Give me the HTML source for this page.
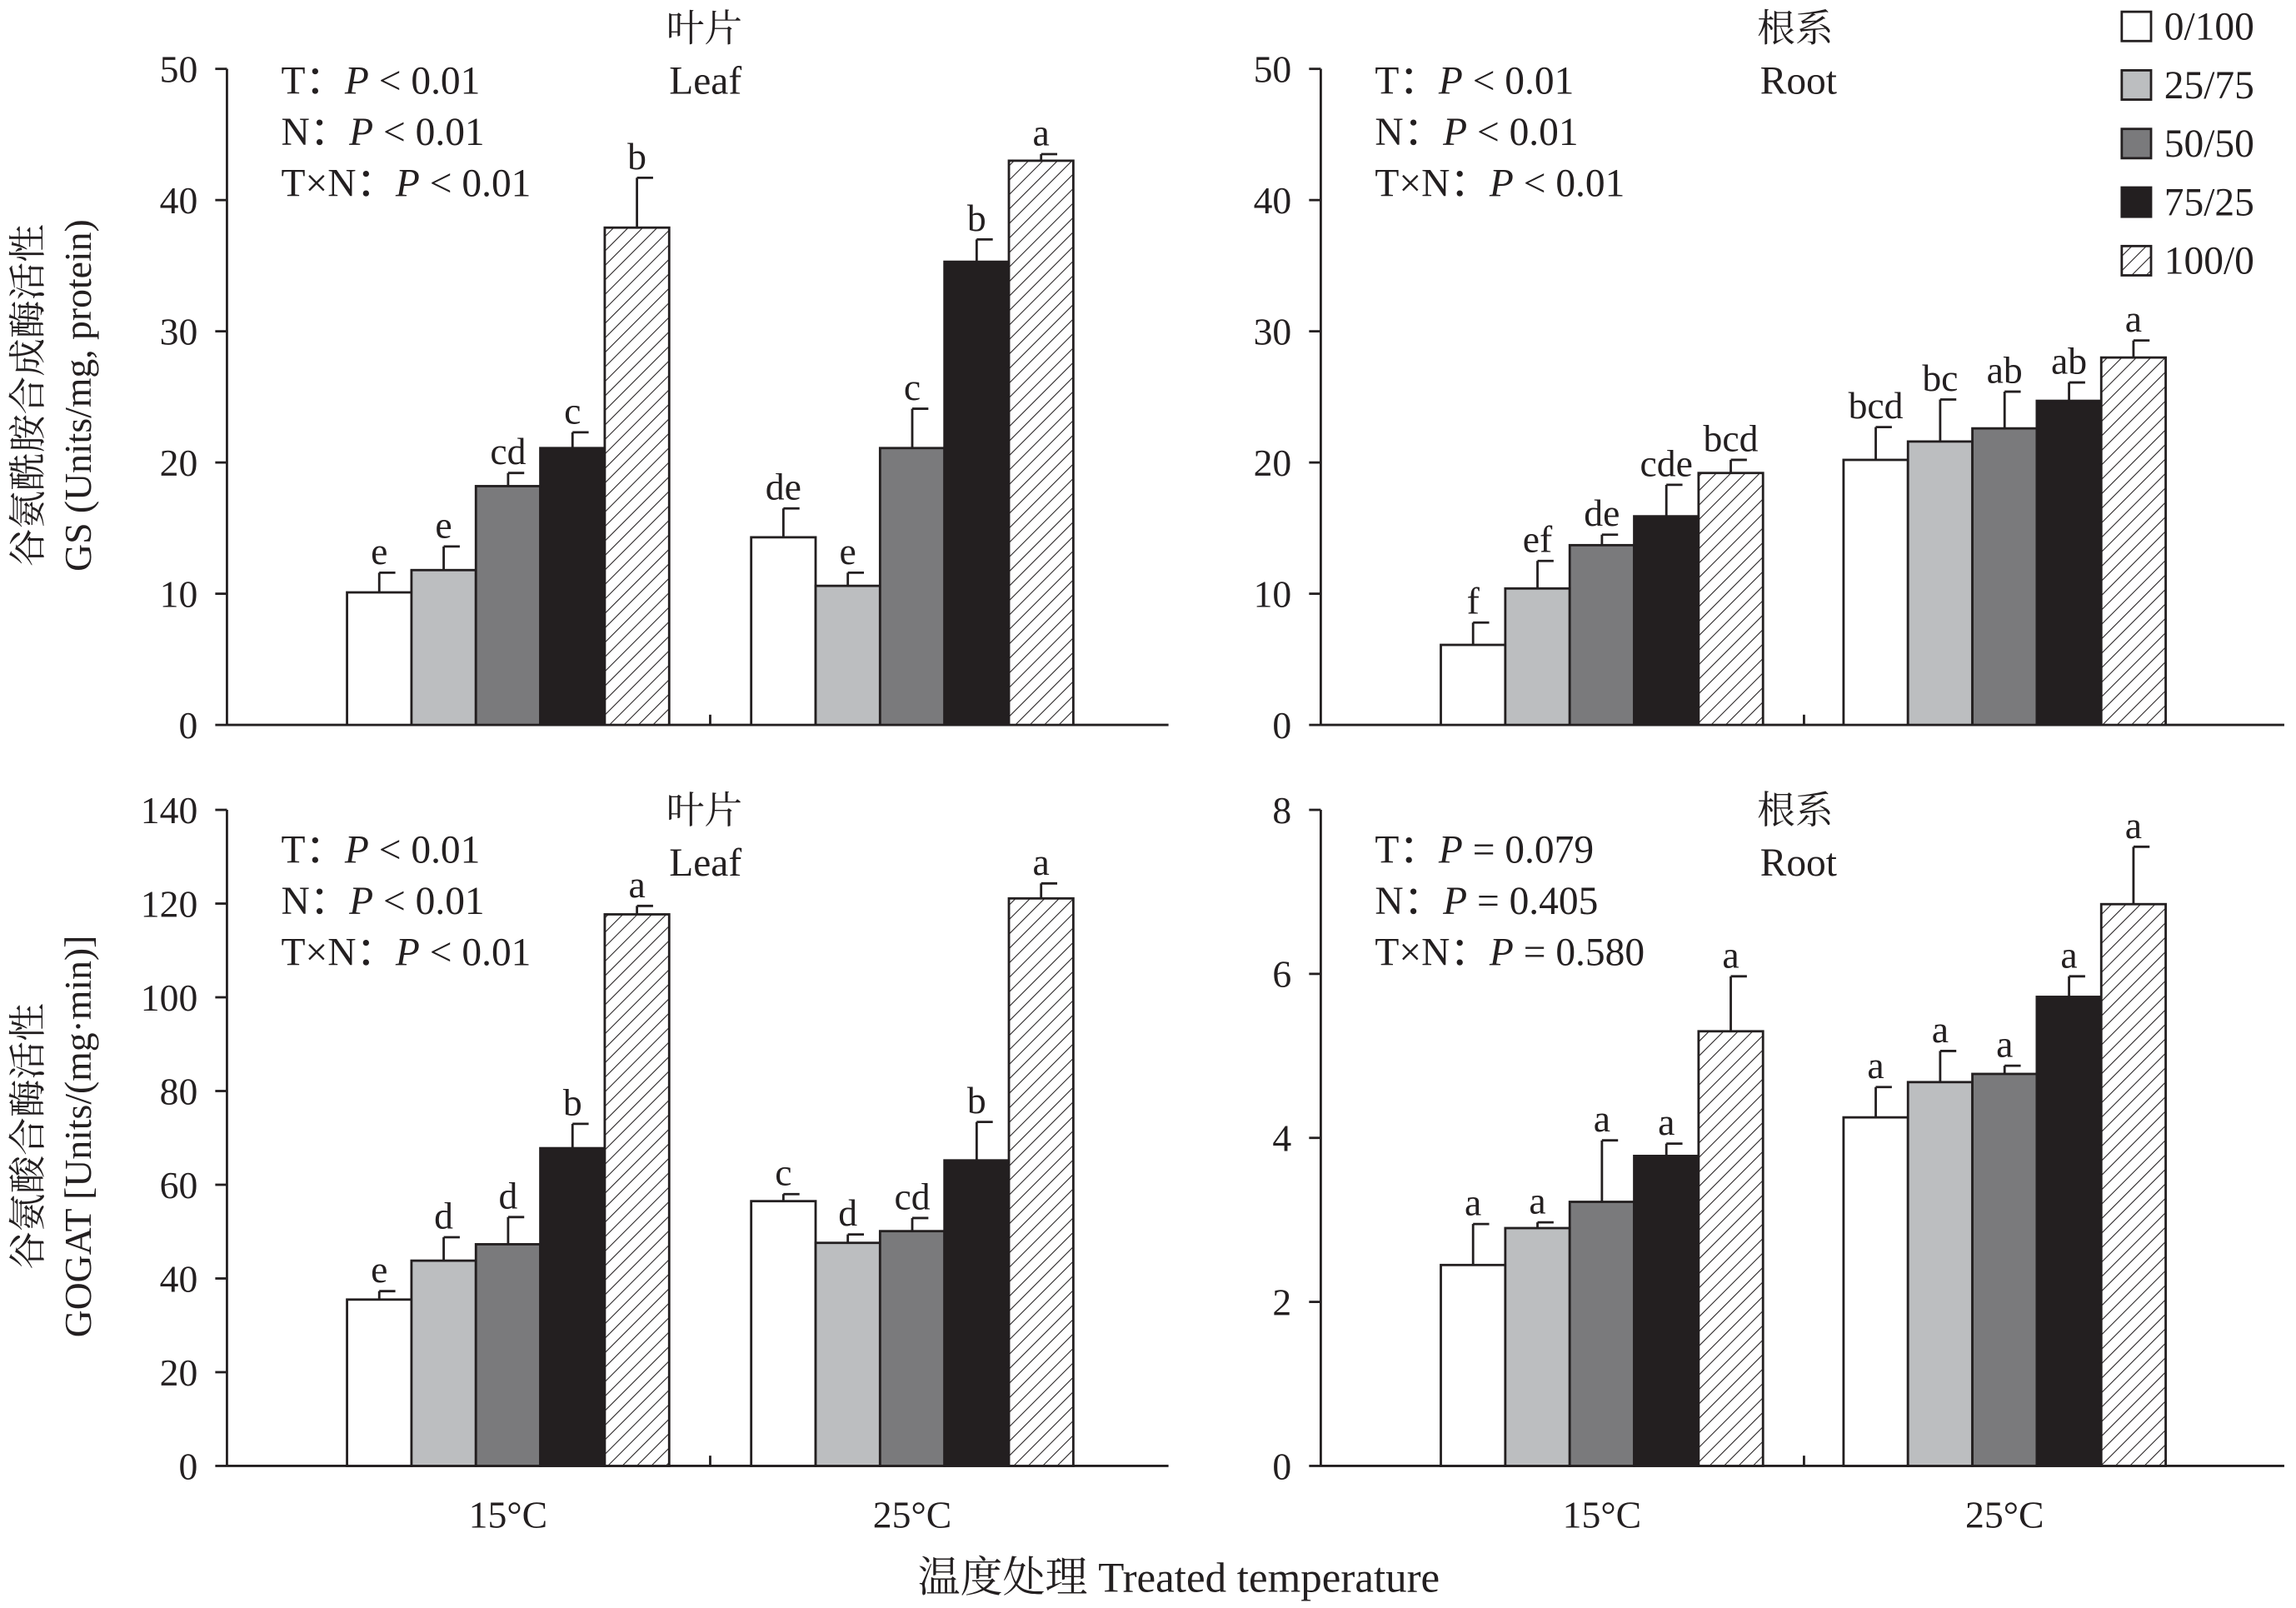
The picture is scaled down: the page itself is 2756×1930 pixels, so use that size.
<!DOCTYPE html>
<html><head><meta charset="utf-8">
<style>
html,body{margin:0;padding:0;background:#fff;}
svg{display:block;}
text,tspan{font-family:"Liberation Serif","Times New Roman","Noto Serif CJK SC",serif;fill:#231f20;}
.cj{font-family:"Noto Sans CJK SC","Noto Serif CJK SC",sans-serif;}
</style></head>
<body>
<svg id="chart" width="2756" height="1930" viewBox="0 0 1568 1098" xmlns="http://www.w3.org/2000/svg">
<defs>
<pattern id="hatch" patternUnits="userSpaceOnUse" width="7" height="7" patternTransform="rotate(45)">
<rect width="7" height="7" fill="#fff"/>
<line x1="0" y1="0" x2="0" y2="7" stroke="#231f20" stroke-width="1.2"/>
</pattern>
</defs>
<g id="root"></g>
</svg>
<script>
const groups = ["15°C", "25°C"];
const seriesNames = ["0/100", "25/75", "50/50", "75/25", "100/0"];
// GS leaf
const gsLeafVals = [[10.1, 11.8, 18.2, 21.1, 37.9], [14.3, 10.6, 21.1, 35.3, 43.0]];
const gsLeafErr = [[1.5, 1.8, 1.0, 1.2, 3.8], [2.2, 1.0, 3.0, 1.7, 0.5]];
const gsLeafLet = [["e", "e", "cd", "c", "b"], ["de", "e", "c", "b", "a"]];
// GS root
const gsRootVals = [[6.1, 10.4, 13.7, 15.9, 19.2], [20.2, 21.6, 22.6, 24.7, 28.0]];
const gsRootErr = [[1.7, 2.1, 0.8, 2.4, 1.0], [2.5, 3.2, 2.8, 1.4, 1.3]];
const gsRootLet = [["f", "ef", "de", "cde", "bcd"], ["bcd", "bc", "ab", "ab", "a"]];
// GOGAT leaf
const goLeafVals = [[35.5, 43.8, 47.3, 67.8, 117.7], [56.5, 47.6, 50.1, 65.2, 121.1]];
const goLeafErr = [[1.8, 5.0, 5.8, 5.2, 1.8], [1.5, 1.8, 2.8, 8.2, 3.2]];
const goLeafLet = [["e", "d", "d", "b", "a"], ["c", "d", "cd", "b", "a"]];
// GOGAT root
const goRootVals = [[2.45, 2.9, 3.22, 3.78, 5.3], [4.25, 4.68, 4.78, 5.72, 6.85]];
const goRootErr = [[0.5, 0.07, 0.75, 0.15, 0.67], [0.37, 0.38, 0.1, 0.25, 0.7]];
const goRootLet = [["a", "a", "a", "a", "a"], ["a", "a", "a", "a", "a"]];

const fills = ["#ffffff", "#bcbec0", "#7a7a7c", "#231f20", "url(#hatch)"];
const NS = "http://www.w3.org/2000/svg";
const SERIF = '"Liberation Serif","Times New Roman","Noto Serif CJK SC",serif';
const root = document.getElementById("root");
function mk(tag, attrs, parent, txt) {
  const e = document.createElementNS(NS, tag);
  for (const k in attrs) e.setAttribute(k, attrs[k]);
  if (tag === "text") e.setAttribute("font-family", SERIF);
  if (txt !== undefined) e.textContent = txt;
  (parent || root).appendChild(e);
  return e;
}

function panel(cfg) {
  const g = mk("g", {});
  
  
  const y = v => cfg.y0 - (v / cfg.max) * (cfg.y0 - cfg.y1);
  const ax = mk("line", {x1: cfg.ax, y1: cfg.y1, x2: cfg.ax, y2: cfg.y0, stroke: "#231f20", "stroke-width": 1.6}, g);
  
  
  const xl = mk("line", {x1: cfg.ax, y1: cfg.y0, x2: cfg.xend, y2: cfg.y0, stroke: "#231f20", "stroke-width": 1.6}, g);
  
  
  const dt = mk("line", {x1: cfg.divider, y1: cfg.y0, x2: cfg.divider, y2: cfg.y0 - 7, stroke: "#231f20", "stroke-width": 1.6}, g);
  
  
  for (let v = 0; v <= cfg.max + 1e-9; v += cfg.step) {
    const t = mk("line", {x1: cfg.ax - 8, y1: y(v), x2: cfg.ax, y2: y(v), stroke: "#231f20", "stroke-width": 1.6}, g);
    
    
    const l = mk("text", {x: cfg.ax - 20, y: y(v) + 9, "text-anchor": "end", "font-size": 26}, g, String(Math.round(v)));
    
    
  }
  const bw = 44;
  for (let gi = 0; gi < 2; gi++) {
    for (let si = 0; si < 5; si++) {
      const x = cfg.gx[gi] + si * bw;
      const v = cfg.vals[gi][si], e = cfg.err[gi][si];
      const eb = mk("line", {x1: x + bw / 2, y1: y(v), x2: x + bw / 2, y2: y(v + e), stroke: "#231f20", "stroke-width": 1.6}, g);
      
      
      const ec = mk("line", {x1: x + bw / 2, y1: y(v + e), x2: x + bw / 2 + 11, y2: y(v + e), stroke: "#231f20", "stroke-width": 1.6}, g);
      
      
      const r = mk("rect", {x: x, y: y(v), width: bw, height: y(0) - y(v), fill: fills[si], stroke: "#231f20", "stroke-width": 1.6}, g);
      
      
      const lt = mk("text", {x: x + bw / 2, y: y(v + e) - 6, "text-anchor": "middle", "font-size": 26}, g, cfg.lets[gi][si]);
      
      
    }
    if (cfg.xlabels) {
      const xt = mk("text", {x: cfg.gx[gi] + 110, y: cfg.y0 + 42, "text-anchor": "middle", "font-size": 26}, g, groups[gi]);
      
      
    }
  }
  cfg.stats.forEach((s, i) => {
    const t = mk("text", {x: cfg.ax + 37, y: cfg.statY + i * 35, "font-size": 27}, g);
    
    
    mk("tspan", {}, t, s[0]);
    mk("tspan", {class: "cj", "font-family": '"Noto Sans CJK SC",sans-serif'}, t, "：");
    mk("tspan", {"font-style": "italic"}, t, "P");
    mk("tspan", {}, t, s[1]);
  });
  const t1 = mk("text", {x: cfg.tx, y: cfg.titleY, "font-size": 26}, g, cfg.title[0]);
  
  
  const t2 = mk("text", {x: cfg.tx + 2, y: cfg.titleY + 36, "font-size": 27}, g, cfg.title[1]);
  
  
}

const st1 = [["T", " < 0.01"], ["N", " < 0.01"], ["T×N", " < 0.01"]];
panel({name: "gs-leaf-panel", ax: 155, xend: 798, y0: 495, y1: 47, max: 50, step: 10, gx: [237, 513], divider: 485,
  vals: gsLeafVals, err: gsLeafErr, lets: gsLeafLet, stats: st1, title: ["叶片", "Leaf"], tx: 455, titleY: 28, statY: 64});
panel({name: "gs-root-panel", ax: 902, xend: 1560, y0: 495, y1: 47, max: 50, step: 10, gx: [984, 1259], divider: 1232,
  vals: gsRootVals, err: gsRootErr, lets: gsRootLet, stats: st1, title: ["根系", "Root"], tx: 1200, titleY: 28, statY: 64});
panel({name: "gogat-leaf-panel", ax: 155, xend: 798, y0: 1001, y1: 553, max: 140, step: 20, gx: [237, 513], divider: 485,
  vals: goLeafVals, err: goLeafErr, lets: goLeafLet, stats: st1, title: ["叶片", "Leaf"], tx: 455, titleY: 562, statY: 589, xlabels: true});
panel({name: "gogat-root-panel", ax: 902, xend: 1560, y0: 1001, y1: 553, max: 8, step: 2, gx: [984, 1259], divider: 1232,
  vals: goRootVals, err: goRootErr, lets: goRootLet,
  stats: [["T", " = 0.079"], ["N", " = 0.405"], ["T×N", " = 0.580"]], title: ["根系", "Root"], tx: 1200, titleY: 562, statY: 589, xlabels: true});

seriesNames.forEach((n, i) => {
  const cy = 18 + i * 40;
  const b = mk("rect", {x: 1449, y: cy - 10, width: 20, height: 20, fill: fills[i], stroke: "#231f20", "stroke-width": 1.6});
  
  
  const t = mk("text", {x: 1478, y: cy + 9, "font-size": 27}, undefined, n);
  
  
});

function ytitle(lines, cy, name) {
  lines.forEach((s, i) => {
    const x = 28 + i * 34;
    const t = mk("text", {x: x, y: cy, "text-anchor": "middle", "font-size": 26, transform: "rotate(-90 " + x + " " + cy + ")"}, undefined, s);
    
    
  });
}
ytitle(["谷氨酰胺合成酶活性", "GS (Units/mg, protein)"], 270, "y-axis-title-gs");
ytitle(["谷氨酸合酶活性", "GOGAT [Units/(mg·min)]"], 776, "y-axis-title-gogat");
const xt = mk("text", {x: 805, y: 1087, "text-anchor": "middle", "font-size": 29}, undefined, "温度处理 Treated temperature");


</script>
</body></html>
